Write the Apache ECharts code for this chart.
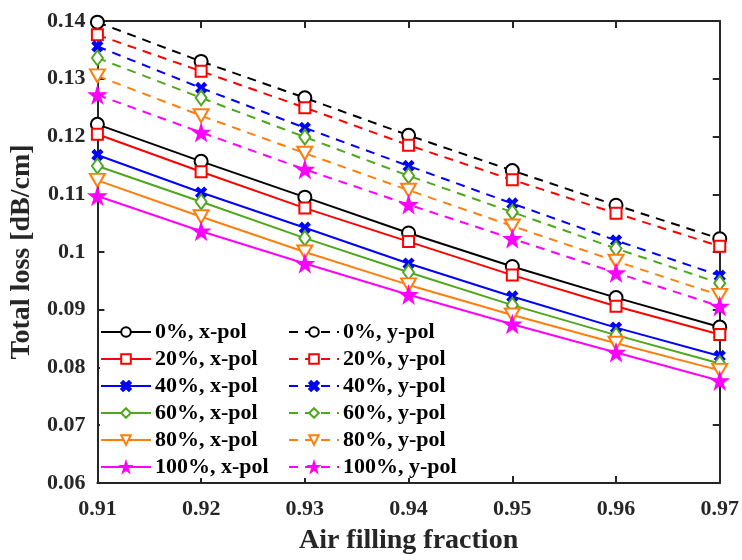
<!DOCTYPE html>
<html>
<head>
<meta charset="utf-8">
<script src="https://cdn.jsdelivr.net/npm/echarts@6/dist/echarts.min.js"></script>
<style>html,body{margin:0;padding:0;background:#fff}#c{width:742px;height:560px}</style>
</head>
<body>
<div id="c"></div>
<script>
const xValues = [0.91, 0.92, 0.93, 0.94, 0.95, 0.96, 0.97];
const yTicks = [0.06, 0.07, 0.08, 0.09, 0.1, 0.11, 0.12, 0.13, 0.14];

const x0 = [0.1221, 0.1157, 0.1095, 0.1033, 0.0975, 0.0921, 0.0870];
const y0 = [0.1398, 0.1330, 0.1267, 0.1202, 0.1141, 0.1081, 0.1023];
const x20 = [0.1204, 0.1139, 0.1076, 0.1018, 0.0960, 0.0906, 0.0857];
const y20 = [0.1376, 0.1313, 0.1250, 0.1185, 0.1125, 0.1067, 0.1010];
const x40 = [0.1168, 0.1103, 0.1042, 0.0980, 0.0923, 0.0869, 0.0820];
const y40 = [0.1356, 0.1284, 0.1215, 0.1149, 0.1084, 0.1020, 0.0959];
const x60 = [0.1149, 0.1087, 0.1024, 0.0965, 0.0908, 0.0856, 0.0807];
const y60 = [0.1336, 0.1267, 0.1199, 0.1132, 0.1069, 0.1006, 0.0946];
const x80 = [0.1124, 0.1061, 0.1000, 0.0943, 0.0891, 0.0842, 0.0795];
const y80 = [0.1305, 0.1236, 0.1171, 0.1107, 0.1045, 0.0984, 0.0925];
const x100 = [0.1097, 0.1036, 0.0980, 0.0926, 0.0875, 0.0826, 0.0777];
const y100 = [0.1272, 0.1207, 0.1143, 0.1082, 0.1023, 0.0964, 0.0906];

const names = ['0%', '20%', '40%', '60%', '80%', '100%'];
const xpolData = [x0, x20, x40, x60, x80, x100];
const ypolData = [y0, y20, y40, y60, y80, y100];
const colors = ['#000000', '#ff0000', '#0000ff', '#4ea71c', '#ff7f0e', '#ff00ff'];

const xMark = 'path://M0,2 L2,0 L5,3 L8,0 L10,2 L7,5 L10,8 L8,10 L5,7 L2,10 L0,8 L3,5 Z';
const starMark = 'path://M50,0 L61,35 L98,35 L68,57 L79,91 L50,70 L21,91 L32,57 L2,35 L39,35 Z';
const symbols = ['emptyCircle', 'emptyRect', xMark, 'emptyDiamond', 'emptyTriangle', starMark];
const symSizes = [13, 11, 10, [11, 15], [15, 13], 16];
const symRot = [0, 0, 0, 0, 180, 0];

const series = [];
function mk(i, pol, data, dashed) {
  return {
    name: names[i] + ', ' + pol,
    type: 'line',
    data: xValues.map((x, k) => [x, data[k]]),
    symbol: symbols[i],
    symbolSize: symSizes[i],
    symbolRotate: symRot[i],
    showAllSymbol: true,
    color: colors[i],
    lineStyle: { color: colors[i], width: 2, type: dashed ? [9, 7] : 'solid' },
    itemStyle: { color: colors[i], borderColor: colors[i], borderWidth: 1.6 },
    z: dashed ? 2 : 3,
    animation: false
  };
}
for (let i = 0; i < 6; i++) series.push(mk(i, 'y-pol', ypolData[i], true));
for (let i = 0; i < 6; i++) series.push(mk(i, 'x-pol', xpolData[i], false));

const font = '"Liberation Serif", "Times New Roman", serif';
const tickFmt = v => String(parseFloat(v.toFixed(2)));
const legendCommon = {
  orient: 'vertical',
  itemWidth: 50,
  itemHeight: 12,
  itemGap: 5,
  padding: 0,
  backgroundColor: '#ffffff',
  textStyle: { fontFamily: font, fontWeight: 'bold', fontSize: 22, color: '#000', padding: [0, 0, 0, -1] },
  selectedMode: false
};

const chart = echarts.init(document.getElementById('c'), null, { renderer: 'canvas' });
chart.setOption({
  backgroundColor: '#ffffff',
  animation: false,
  grid: { left: 93, top: 21, right: 21, bottom: 70, show: false },
  legend: [
    Object.assign({}, legendCommon, { left: 100, top: 321, data: names.map(n => n + ', x-pol') }),
    Object.assign({}, legendCommon, { left: 288, top: 321, data: names.map(n => n + ', y-pol') })
  ],
  xAxis: [{
    type: 'value', min: 0.91, max: 0.97, interval: 0.01,
    name: 'Air filling fraction', nameLocation: 'middle', nameGap: 44,
    nameTextStyle: { fontFamily: font, fontWeight: 'bold', fontSize: 28, color: '#262626' },
    axisLine: { show: true, lineStyle: { color: '#262626', width: 2 } },
    axisTick: { show: true, inside: true, length: 7, lineStyle: { color: '#262626', width: 2 } },
    axisLabel: { formatter: tickFmt, fontFamily: font, fontWeight: 'bold', fontSize: 22, color: '#262626', margin: 15 },
    splitLine: { show: false }
  }, {
    type: 'value', min: 0.91, max: 0.97, interval: 0.01, position: 'top',
    axisLine: { show: true, lineStyle: { color: '#262626', width: 2 } },
    axisTick: { show: true, inside: true, length: 7, lineStyle: { color: '#262626', width: 2 } },
    axisLabel: { show: false }, splitLine: { show: false }
  }],
  yAxis: [{
    type: 'value', min: 0.06, max: 0.14, interval: 0.01,
    name: 'Total loss [dB/cm]', nameLocation: 'middle', nameGap: 50,
    nameTextStyle: { fontFamily: font, fontWeight: 'bold', fontSize: 28, color: '#262626' },
    axisLine: { show: true, lineStyle: { color: '#262626', width: 2 } },
    axisTick: { show: true, inside: true, length: 7, lineStyle: { color: '#262626', width: 2 } },
    axisLabel: { formatter: tickFmt, fontFamily: font, fontWeight: 'bold', fontSize: 22, color: '#262626', margin: 12 },
    splitLine: { show: false }
  }, {
    type: 'value', min: 0.06, max: 0.14, interval: 0.01, position: 'right',
    axisLine: { show: true, lineStyle: { color: '#262626', width: 2 } },
    axisTick: { show: true, inside: true, length: 7, lineStyle: { color: '#262626', width: 2 } },
    axisLabel: { show: false }, splitLine: { show: false }
  }],
  series: series
});
</script>
</body>
</html>
